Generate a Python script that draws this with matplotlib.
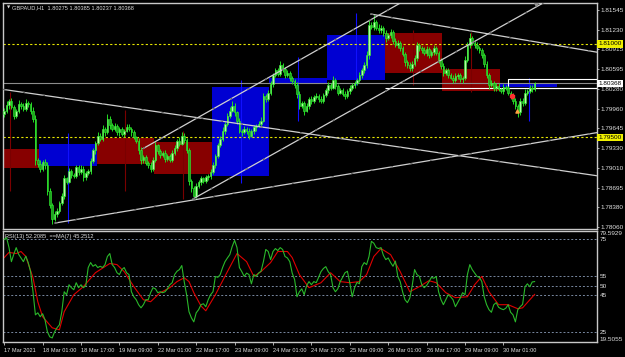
import matplotlib
matplotlib.use("Agg")
import matplotlib.pyplot as plt
import matplotlib.transforms as mtransforms
import numpy as np

# ---- GBPAUD H1 closes (bar 0 = 17 Mar 09:00) ----
first_open = 1.7988
closes = [
    1.7993, 1.8002, 1.8009, 1.7998, 1.7985, 1.7992, 1.8004, 1.8001, 1.7996, 1.8006,
    1.8003, 1.7993, 1.7980, 1.7913, 1.7908, 1.7900, 1.7911, 1.7905, 1.7864, 1.7842,
    1.7819, 1.7827, 1.7832, 1.7845, 1.7856, 1.7884, 1.7879, 1.7896, 1.7890, 1.7888,
    1.7902, 1.7895, 1.7900, 1.7886, 1.7893, 1.7896, 1.7912, 1.7929, 1.7941, 1.7953,
    1.7948, 1.7964, 1.7958, 1.7980, 1.7970, 1.7964, 1.7968, 1.7958, 1.7963, 1.7955,
    1.7961, 1.7967, 1.7964, 1.7958, 1.7950, 1.7945, 1.7930, 1.7913, 1.7918, 1.7909,
    1.7906, 1.7900, 1.7913, 1.7937, 1.7928, 1.7921, 1.7925, 1.7916, 1.7920, 1.7914,
    1.7925, 1.7933, 1.7945, 1.7940, 1.7953, 1.7946, 1.7929, 1.7880, 1.7868, 1.7856,
    1.7872, 1.7878, 1.7884, 1.7880, 1.7886, 1.7888, 1.7895, 1.7905, 1.7920, 1.7937,
    1.7948, 1.7961, 1.7972, 1.7985, 1.7993, 1.8001, 1.7990, 1.7977, 1.7961, 1.7958,
    1.7964, 1.7960, 1.7953, 1.7960, 1.7966, 1.7969, 1.7972, 1.7977, 1.8017, 1.8012,
    1.8022, 1.8036, 1.8050, 1.8058, 1.8052, 1.8066, 1.8060, 1.8050, 1.8054, 1.8045,
    1.8040, 1.8034, 1.8020, 1.8001, 1.8005, 1.7993, 1.8000, 1.8012, 1.8008, 1.8015,
    1.8017, 1.8012, 1.8009, 1.8018, 1.8026, 1.8034, 1.8030, 1.8042, 1.8033, 1.8022,
    1.8026, 1.8020, 1.8017, 1.8024, 1.8029, 1.8034, 1.8038, 1.8042, 1.8050, 1.8058,
    1.8066, 1.8082, 1.8130, 1.8128, 1.8135, 1.8126, 1.8122, 1.8125, 1.8117, 1.8109,
    1.8114, 1.8119, 1.8105, 1.8098, 1.8102, 1.8093, 1.8084, 1.8071, 1.8066, 1.8061,
    1.8068, 1.8077, 1.8098, 1.8094, 1.8090, 1.8086, 1.8092, 1.8082, 1.8087, 1.8093,
    1.8085, 1.8074, 1.8064, 1.8054, 1.8058, 1.8050, 1.8046, 1.8042, 1.8048, 1.8050,
    1.8043, 1.8045, 1.8075, 1.8098, 1.8109, 1.8102, 1.8098, 1.8093, 1.8090, 1.8082,
    1.8068, 1.8050, 1.8034, 1.8038, 1.8029, 1.8033, 1.8027, 1.8025, 1.8031, 1.8029,
    1.8022, 1.8017, 1.8009, 1.8001, 1.7990, 1.8009, 1.8005, 1.8022, 1.8025, 1.8030,
    1.80275, 1.80368,
]
# wick lengths above / below the body, in pips
up_wick = [
    4, 6, 3, 5, 4, 3, 6, 3, 4, 5,  3, 4, 5, 6, 4, 5, 3, 4, 5, 4,
    3, 5, 4, 3, 4, 6, 3, 5, 4, 3,  4, 3, 5, 4, 3, 4, 5, 4, 3, 5,
    4, 6, 3, 7, 4, 3, 5, 4, 3, 4,  3, 4, 5, 3, 4, 3, 4, 5, 3, 4,
    3, 4, 5, 6, 3, 4, 3, 4, 3, 4,  4, 5, 3, 6, 5, 4, 3, 4, 3, 4,
    5, 3, 4, 3, 4, 3, 4, 5, 3, 4,  4, 5, 3, 4, 5, 7, 4, 3, 4, 3,
    4, 3, 5, 3, 4, 3, 4, 5, 4, 3,  4, 5, 3, 4, 3, 6, 4, 3, 4, 3,
    4, 3, 5, 4, 3, 4, 5, 3, 4, 3,  4, 3, 5, 3, 4, 5, 3, 6, 4, 3,
    4, 3, 4, 3, 5, 4, 3, 4, 5, 4,  5, 6, 8, 5, 12, 4, 6, 5, 4, 5,
    4, 5, 3, 4, 5, 3, 4, 3, 4, 5,  4, 6, 5, 4, 3, 5, 4, 3, 4, 5,
    4, 3, 4, 5, 3, 4, 3, 4, 5, 3,  4, 3, 6, 5, 8, 4, 3, 5, 4, 3,
    4, 5, 3, 4, 3, 4, 5, 3, 4, 3,  4, 3, 5, 4, 3, 5, 4, 6, 3, 4,
    4, 1.7,
]
dn_wick = [
    5, 4, 6, 3, 5, 4, 3, 5, 4, 3,  4, 5, 6, 8, 5, 6, 4, 5, 6, 5,
    8, 4, 5, 4, 3, 5, 4, 3, 5, 4,  3, 5, 4, 6, 4, 3, 4, 3, 5, 4,
    3, 4, 5, 3, 6, 4, 3, 4, 5, 3,  4, 3, 4, 5, 3, 4, 6, 5, 4, 3,
    5, 6, 4, 3, 5, 4, 3, 5, 4, 3,  4, 3, 5, 4, 3, 5, 4, 6, 5, 5,
    3, 4, 5, 4, 3, 4, 5, 3, 4, 3,  3, 4, 5, 3, 4, 3, 5, 6, 4, 5,
    3, 4, 6, 3, 4, 5, 3, 4, 3, 5,  3, 4, 5, 3, 4, 3, 5, 4, 3, 5,
    4, 5, 6, 5, 4, 7, 3, 4, 5, 3,  4, 5, 3, 4, 3, 5, 4, 3, 5, 4,
    3, 4, 5, 3, 4, 3, 5, 4, 3, 4,  4, 5, 6, 4, 5, 3, 4, 5, 4, 6,
    3, 4, 5, 3, 4, 5, 4, 6, 5, 4,  5, 3, 4, 5, 4, 3, 5, 4, 3, 4,
    3, 5, 4, 6, 4, 5, 3, 4, 3, 5,  4, 5, 3, 4, 5, 3, 4, 3, 4, 5,
    5, 4, 6, 3, 4, 5, 3, 4, 5, 3,  4, 5, 6, 5, 8, 4, 5, 3, 4, 3,
    4, 3.8,
]

# ---- RSI(13) and its MA(7) ----
rsi = [
    75, 76, 70.6, 63, 67, 70.6, 67, 65, 63, 66,
    62.5, 57.6, 46.7, 34.2, 35.3, 33.2, 34.8, 31.5, 25, 22.3,
    21.7, 25, 27.2, 28.8, 35.9, 46.7, 45.1, 50.5, 48.9, 47.8,
    51.6, 48.9, 50.5, 48.9, 50, 59.8, 62.5, 60.5, 61.4, 59.8,
    60.5, 59.8, 61.4, 65.8, 67.4, 61.4, 59.8, 57, 56, 58.7,
    59.8, 57, 56, 46.7, 44, 42.4, 39.7, 38, 39.7, 42.4,
    42.4, 46.2, 48.9, 48.3, 46.2, 46.7, 46.2, 46.7, 48.3, 50.5,
    51.6, 56, 57.8, 58.7, 60.9, 52.2, 45.1, 35.9, 32.6, 30.4,
    35.3, 37, 39.7, 40.2, 38.6, 42.4, 45.1, 46.7, 55, 54.5,
    56, 59.8, 63, 65, 66.8, 71.2, 74.5, 70.6, 59.8, 57.6,
    55, 56.8, 56, 51, 56, 55, 56.8, 57.8, 63, 69.6,
    68.5, 64.1, 68.5, 70.1, 69, 70.6, 69.6, 65.8, 65, 63,
    56.8, 53.3, 44, 46.7, 48.3, 45.1, 50, 52.2, 50.5, 52.2,
    51.6, 54.5, 57.6, 59.3, 60.3, 57.6, 56, 48.9, 46.7, 48.3,
    52.2, 54.5, 57, 57.8, 51.6, 44, 48.9, 51.8, 51, 60.3,
    62.5, 61.4, 65.8, 74, 73, 70.6, 70.1, 70.6, 66.4, 64.1,
    65, 62.5, 60.5, 63.3, 55, 52.2, 46.7, 42.4, 40.8, 43.3,
    50, 58.7, 56, 55, 50.5, 48.9, 50.1, 52.2, 54.5, 54,
    55, 46.7, 42.4, 39.7, 42.4, 45.1, 44, 42.4, 38.6, 41,
    43.3, 46.2, 45.1, 56, 61.4, 58.7, 56.8, 55, 54.5, 52.2,
    44, 39.7, 37, 35.6, 39.7, 40.8, 38.3, 37.5, 37, 37.8,
    39.7, 35.6, 34.2, 30.4, 37, 38.6, 39.9, 49.4, 51, 49.4,
    52, 52.2085,
]
ma_bar = [0, 2, 5, 7, 9, 12, 14, 16, 20, 23, 25, 29, 33, 38, 44, 47, 50, 54, 58, 61,
          65, 69, 72, 75, 77, 79, 82, 84, 88, 93, 97, 101, 104, 107, 111, 114, 118, 120,
          123, 127, 132, 136, 140, 144, 148, 151, 154, 157, 161, 165, 169, 173, 177, 180,
          184, 188, 193, 196, 199, 202, 206, 210, 214, 216, 221]
ma_val = [65.2, 68, 67.4, 68.5, 65.8, 54.3, 41.3, 33.2, 27.2, 26.1, 35.9, 45.1, 49.5, 57,
          62, 61.4, 57.6, 49.5, 42.4, 41.3, 46.2, 48.9, 52.2, 54.3, 52.2, 46.2, 39, 36.4,
          45.1, 57.6, 67.4, 63, 55, 57.6, 62.5, 68.5, 68.5, 65.2, 56, 48.9, 51.6, 57, 52.2,
          51.6, 52.2, 56, 65.8, 70.1, 66.8, 57.6, 46.7, 49.5, 52.7, 51.6, 46.2, 43.5, 44,
          50.5, 55, 46.7, 39.7, 39.7, 37.5, 38, 45.2512]

# ---- daily session boxes and day range lines ----
box_start = [-9, 15, 39, 63, 87, 111, 135, 159, 183, 207]
box_top = [1.79319, 1.79400, 1.79497, 1.79432, 1.80303, 1.80448, 1.81142, 1.81174, 1.80593, 1.80367]
box_bot = [1.79013, 1.79045, 1.79077, 1.78916, 1.78884, 1.80367, 1.80416, 1.80529, 1.80238, 1.80303]
box_kind = ['bear', 'bull', 'bear', 'bear', 'bull', 'bull', 'bull', 'bear', 'bear', 'bull']
day_hi = [1.80222, 1.79577, 1.79932, 1.79609, 1.80416, 1.80787, 1.81497, 1.81222, 1.81190, 1.80448]
day_lo = [1.78642, 1.78125, 1.78642, 1.78512, 1.78771, 1.79771, 1.80335, 1.80335, 1.80222, 1.79771]

# ---- trend lines (bar, price) -> (bar, price) ----
tl_x0 = [-0.5, 152.8, 57.8, 78.7, 21.2]
tl_p0 = [1.80271, 1.81480, 1.79319, 1.78513, 1.78125]
tl_x1 = [247, 247, 167, 227, 247]
tl_p1 = [1.78884, 1.80868, 1.8170, 1.8171, 1.79577]

levels = [1.81000, 1.79500]
bid = 1.80368
day_low_line = 1.80287
range_box = (209.9, 1.80287, 1.80432)

price_ticks = [1.81545, 1.81230, 1.80915, 1.80595, 1.80280, 1.79960,
               1.79645, 1.79330, 1.79010, 1.78695, 1.78380, 1.78060]
rsi_levels = [75, 55, 50, 45, 25]
tick_bars = [0, 16, 32, 48, 64, 80, 96, 112, 128, 144, 160, 176, 192, 208]
tick_text = ['17 Mar 2021', '18 Mar 01:00', '18 Mar 17:00', '19 Mar 09:00',
             '22 Mar 01:00', '22 Mar 17:00', '23 Mar 09:00', '24 Mar 01:00',
             '24 Mar 17:00', '25 Mar 09:00', '26 Mar 01:00', '26 Mar 17:00',
             '29 Mar 09:00', '30 Mar 01:00']

plt.rcParams['font.family'] = 'Liberation Sans'
FS = 4.6
FS_S = 4.1
TXT = '#e0e0e0'
FRAME = '#c8c8c8'

W, H = 625, 357
fig = plt.figure(figsize=(W / 100, H / 100), dpi=100, facecolor='black')
ax = fig.add_axes([3 / W, 1 - 229 / H, 594 / W, 226 / H], facecolor='black')
ax2 = fig.add_axes([3 / W, 1 - 342 / H, 594 / W, 111 / H], facecolor='black')

for a in (ax, ax2):
    for s in a.spines.values():
        s.set_color(FRAME)
        s.set_linewidth(1.0)
    a.set_xlim(-0.5, 247)

# boxes
for s0, top, bot, kind in zip(box_start, box_top, box_bot, box_kind):
    col = '#0000d2' if kind == 'bull' else '#870000'
    ax.fill_between([s0 - 0.5, s0 + 23.5], bot, top, color=col, lw=0, zorder=1)
for s0, hi, lo, kind in zip(box_start, day_hi, day_lo, box_kind):
    col = '#1010ff' if kind == 'bull' else '#7a0000'
    ax.vlines(s0 + 11.5, lo, hi, color=col, lw=0.8, zorder=1.2)

# horizontal levels
for lv in levels:
    ax.axhline(lv, color='#e6e600', lw=0.8, dashes=(2, 2), zorder=2.5)
ax.axhline(bid, color='#8c8c8c', lw=0.8, zorder=2.4)
ax.hlines(day_low_line, 158.7, 247, color='white', lw=0.8, zorder=2.6)
rx, rb, rt = range_box
ax.plot([247, rx, rx, 247], [rt, rt, rb, rb], color='white', lw=0.8, zorder=2.6)

# candles
c = np.array(closes)
o = np.r_[first_open, c[:-1]]
idx = np.arange(len(c))
hi = np.maximum(o, c) + np.array(up_wick) * 1e-4
lo = np.minimum(o, c) - np.array(dn_wick) * 1e-4
ax.vlines(idx, lo, hi, color='#22dd22', lw=0.7, zorder=3)
bull = c >= o
body_h = np.maximum(np.abs(c - o), 0.00004)
ax.bar(idx[bull], body_h[bull], bottom=o[bull], width=0.7,
       color='#b8f8a8', edgecolor='#30e830', lw=0.45, zorder=3.2)
ax.bar(idx[~bull], body_h[~bull], bottom=c[~bull], width=0.7,
       color='#1ea51e', edgecolor='#30e830', lw=0.45, zorder=3.2)

# trade markers
ax.scatter([211.5], [1.8016], marker='P', s=5, color='#ff3030', zorder=5)
ax.scatter([213.7], [1.7992], marker='^', s=5, color='#ffa040', zorder=5)
ax.scatter([221.5], [1.8164], marker='v', s=9, color='#909090', zorder=5)

# trend lines
for x0, p0, x1, p1 in zip(tl_x0, tl_p0, tl_x1, tl_p1):
    ax.plot([x0, x1], [p0, p1], color='#d0d0d0', lw=0.9, zorder=4)
    ax.plot([x0, x1], [p0, p1], color='#6e6e6e', lw=0.9, dashes=(2, 14), zorder=4.1)

ax.set_ylim(1.78029, 1.81658)
ax.set_xticks([])
ax.yaxis.tick_right()
ax.set_yticks(price_ticks)
ax.set_yticklabels([f'{p:.5f}' for p in price_ticks])
ax.tick_params(axis='y', colors=FRAME, labelcolor=TXT, labelsize=FS, length=1.5, width=0.6, pad=0.8)

bl = mtransforms.blended_transform_factory(ax.transAxes, ax.transData)
for p, fc in zip(levels + [bid], ['#f0f000', '#f0f000', 'white']):
    ax.text(1.0025, p, f'{p:.5f}', transform=bl, fontsize=FS, color='black',
            va='center', ha='left', clip_on=False, zorder=10,
            bbox=dict(boxstyle='square,pad=0.2', fc=fc, ec='none'))

fig.text(7 / W, 1 - 7.5 / H, '\u25bc', fontsize=3, color=TXT, va='center',
         family='DejaVu Sans')
fig.text(12 / W, 1 - 7.5 / H, 'GBPAUD,H1  1.80275 1.80385 1.80237 1.80368',
         fontsize=FS_S, color=TXT, va='center')

# RSI pane
for lv in rsi_levels:
    ax2.axhline(lv, color='#7888a0', lw=0.7, dashes=(2, 2), zorder=1)
ax2.plot(ma_bar, ma_val, color='#e00000', lw=0.8, zorder=2)
ax2.plot(idx, rsi, color='#2ab82a', lw=0.8, zorder=3)
ax2.set_ylim(19.5055, 79.5929)
ax2.yaxis.tick_right()
ax2.set_yticks(rsi_levels)
ax2.set_yticklabels([str(v) for v in rsi_levels])
ax2.tick_params(axis='y', colors=FRAME, labelcolor=TXT, labelsize=FS, length=0, pad=2)
bl2 = mtransforms.blended_transform_factory(ax2.transAxes, ax2.transData)
ax2.text(1.004, 79.5929, '79.5929', transform=bl2, fontsize=FS, color=TXT,
         va='top', ha='left', clip_on=False)
ax2.text(1.004, 19.5055, '19.5055', transform=bl2, fontsize=FS, color=TXT,
         va='bottom', ha='left', clip_on=False)
ax2.set_xticks(tick_bars)
ax2.set_xticklabels(tick_text, ha='left')
ax2.tick_params(axis='x', colors=FRAME, labelcolor=TXT, labelsize=FS_S, length=2.5, width=0.6, pad=1.5)
fig.text(5 / W, 1 - 236.5 / H, 'RSI(13) 52.2085  ==MA(7) 45.2512',
         fontsize=FS_S, color=TXT, va='center')

fig.savefig('out.png', dpi=100, facecolor='black')
